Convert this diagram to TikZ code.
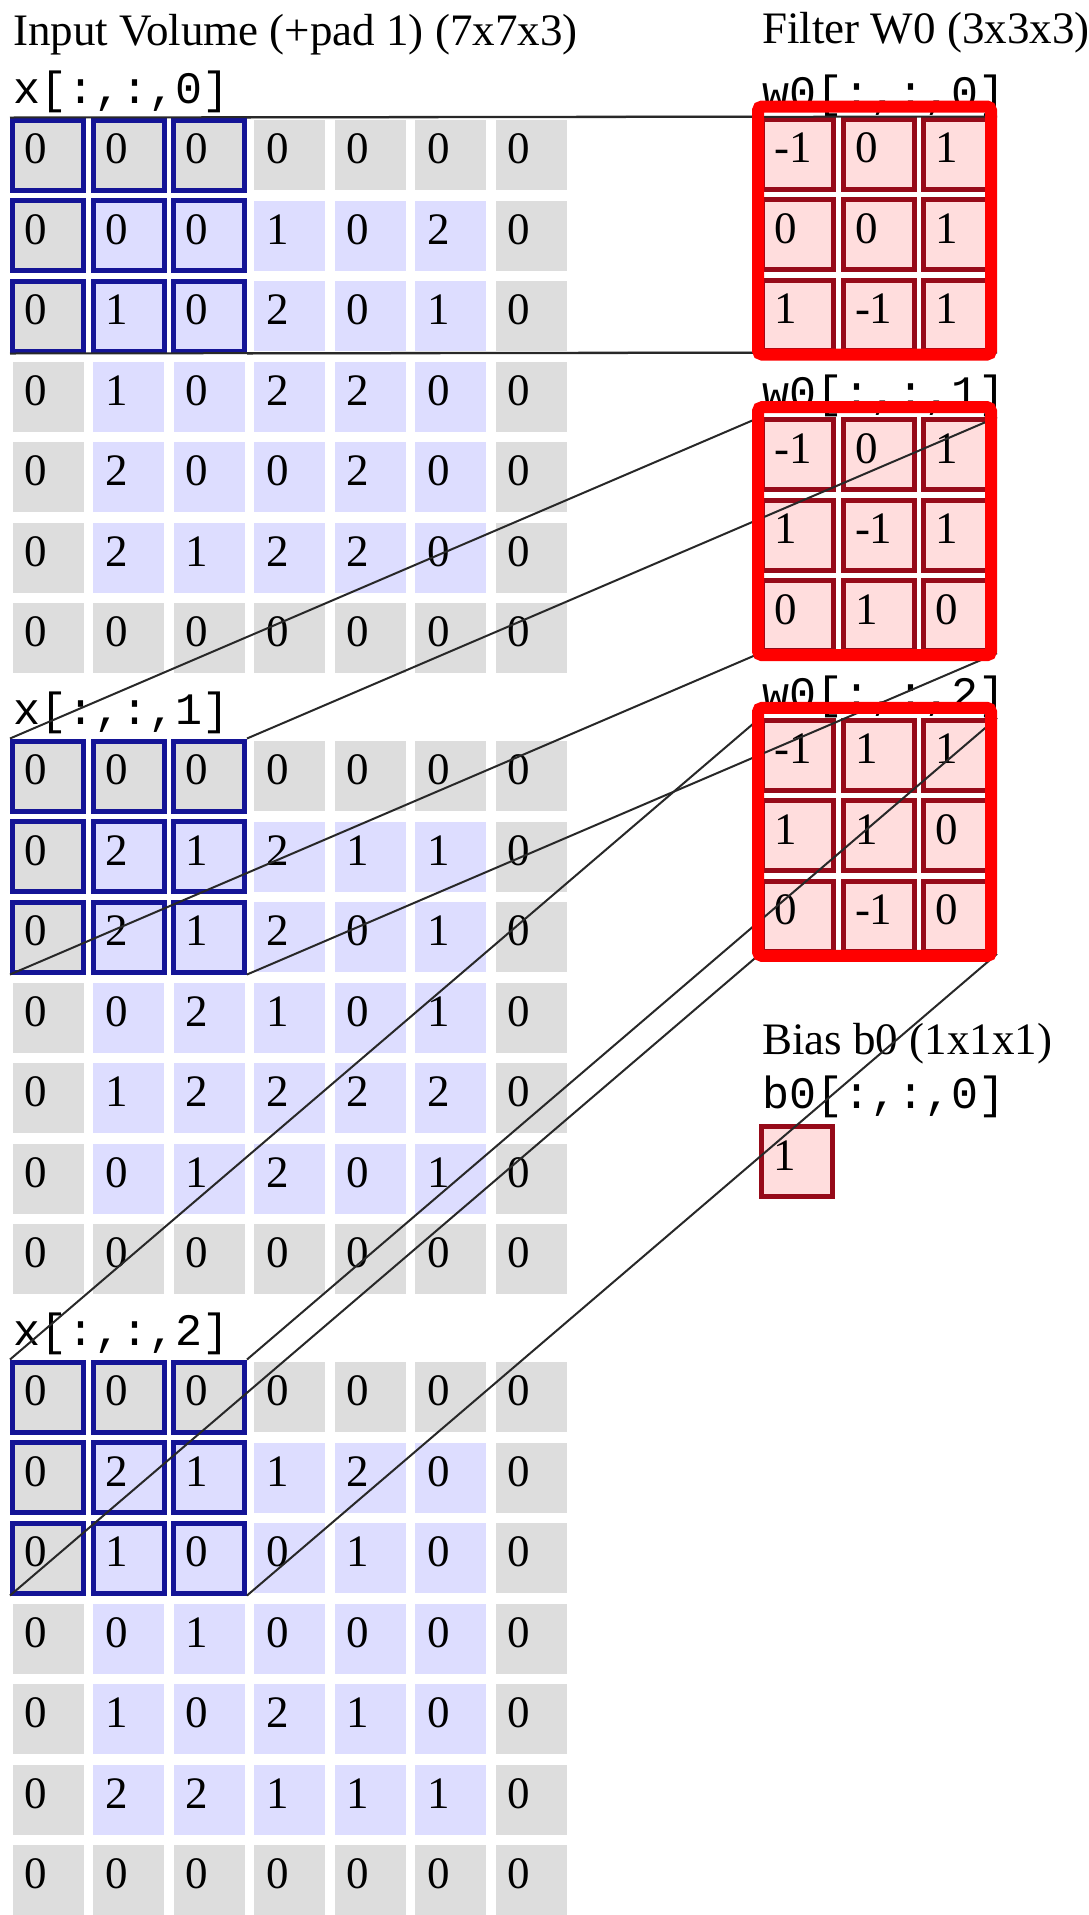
\documentclass[tikz,border=0pt]{standalone}
\usepackage{fontspec}
\setmainfont{Liberation Serif}
\setmonofont{Liberation Mono}
\usepackage{xcolor}
\definecolor{cinza}{RGB}{221,221,221}
\definecolor{azulClaro}{RGB}{221,221,255}
\definecolor{azulEscuro}{RGB}{20,20,150}
\definecolor{rosa}{RGB}{255,221,221}
\definecolor{vinho}{RGB}{150,10,25}
\definecolor{vermelho}{RGB}{255,0,0}
\definecolor{traco}{RGB}{40,40,40}
\usepackage{tikz}
\usetikzlibrary{calc}

\begin{document}
\begin{tikzpicture}[x=1pt,y=-1pt,
            celula/.style={rectangle,minimum width=71pt,minimum height=70pt,
              text width=47pt,inner xsep=12pt,inner ysep=0pt,align=left,
              text height=31pt,text depth=14pt,line width=5pt,
            font=\fontsize{45}{54}\selectfont,text=black},
            peso/.style={celula,fill=rosa,draw=vinho},
            titulo/.style={anchor=base west,inner sep=0pt,font=\fontsize{45}{54}\selectfont},
            rotulo/.style={titulo,font=\fontsize{45}{54}\selectfont\ttfamily},
            ligacao/.style={draw=traco,line width=2pt},
            moldura/.style={draw=vermelho,line width=12pt,rounded corners=4pt}
            ]
            \useasboundingbox (0,0) rectangle (1089,1915);

            % titulos
            \node[titulo] (tx) at (13,45)     {Input Volume (+pad 1) (7x7x3)};
            \node[titulo] (tw) at (762,43)    {Filter W0 (3x3x3)};
            \node[titulo] (tb) at (762,1054)  {Bias b0 (1x1x1)};
            \node[rotulo] (lb) at (762,1108)  {b0[:,:,0]};
            \foreach \g in {0,1,2} {
              \node[rotulo] (lx\g) at (13,{103+621*\g})    {x[:,:,\g]};
              \node[rotulo] (lw\g) at (762,{107+300.7*\g}) {w0[:,:,\g]};
            }

            % volume de entrada, 3 fatias de 7 linhas
            \foreach \vals [count=\k from 0] in {
              {0,0,0,0,0,0,0},{0,0,0,1,0,2,0},{0,1,0,2,0,1,0},{0,1,0,2,2,0,0},
              {0,2,0,0,2,0,0},{0,2,1,2,2,0,0},{0,0,0,0,0,0,0},
              {0,0,0,0,0,0,0},{0,2,1,2,1,1,0},{0,2,1,2,0,1,0},{0,0,2,1,0,1,0},
              {0,1,2,2,2,2,0},{0,0,1,2,0,1,0},{0,0,0,0,0,0,0},
              {0,0,0,0,0,0,0},{0,2,1,1,2,0,0},{0,1,0,0,1,0,0},{0,0,1,0,0,0,0},
              {0,1,0,2,1,0,0},{0,2,2,1,1,1,0},{0,0,0,0,0,0,0}} {
              \pgfmathtruncatemacro\gr{int(\k/7)}
              \pgfmathtruncatemacro\lin{mod(\k,7)}
              \foreach \val [count=\col from 0] in \vals {
                \pgfmathtruncatemacro\pad{(\lin==0)||(\lin==6)||(\col==0)||(\col==6)}
                \pgfmathtruncatemacro\hit{(\lin<3)&&(\col<3)}
                \ifnum\pad=1 \def\fundo{cinza}\else\def\fundo{azulClaro}\fi
                \ifnum\hit=1 \def\borda{azulEscuro}\else\def\borda{none}\fi
                \node[celula,fill=\fundo,draw=\borda] (x\gr-\lin-\col)
                  at ({48+80.5*\col},{155+621*\gr+80.5*\lin}) {\val};
              }
            }

            % filtro W0
            \foreach \vals [count=\k from 0] in {
              {-1,0,1},{0,0,1},{1,-1,1},
              {-1,0,1},{1,-1,1},{0,1,0},
              {-1,1,1},{1,1,0},{0,-1,0}} {
              \pgfmathtruncatemacro\fl{int(\k/3)}
              \pgfmathtruncatemacro\lin{mod(\k,3)}
              \foreach \val [count=\col from 0] in \vals
                \node[peso] (w\fl-\lin-\col)
                  at ({798+80.5*\col},{154+300.7*\fl+80.5*\lin}) {\val};
            }
            \node[peso] (b0) at (797,1161.5) {1};

            % ligacoes entre cantos
            \foreach \g in {0,1,2} {
              \draw[ligacao] (x\g-0-0.north west) -- (w\g-0-0.north west);
              \draw[ligacao] (x\g-0-2.north east) -- (w\g-0-2.north east);
              \draw[ligacao] (x\g-2-0.south west) -- (w\g-2-0.south west);
              \draw[ligacao] (x\g-2-2.south east) -- (w\g-2-2.south east);
            }

            % molduras vermelhas
            \foreach \g in {0,1,2}
              \draw[moldura] ($(w\g-0-0.north west)+(-2,-10)$)
                rectangle ($(w\g-2-2.south east)+(-6,2)$);
          \end{tikzpicture}
\end{document}
